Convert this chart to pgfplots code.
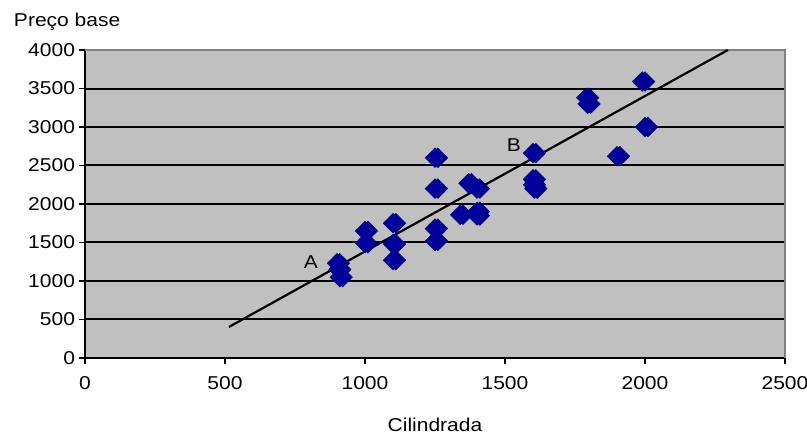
\documentclass[border=0pt]{standalone}
\usepackage{pgfplots}
\pgfplotsset{compat=1.18}
\usepackage{fontspec}
\setmainfont{Liberation Sans}

\definecolor{plotgray}{RGB}{192,192,192}
\definecolor{framegray}{RGB}{128,128,128}
\definecolor{markblue}{RGB}{0,0,155}
\definecolor{markshade}{RGB}{0,0,110}

\newcommand{\lbl}{\fontsize{18.6}{21}\selectfont}

\begin{document}
\begin{tikzpicture}
\path[use as bounding box] (-85pt,-78pt) rectangle (722pt,358pt);
\begin{axis}[
  at={(0pt,0pt)}, anchor=south west,
  scale only axis, width=700pt, height=308pt,
  xmin=0, xmax=2500, ymin=0, ymax=4000,
  xtick={0,500,...,2500}, ytick={0,500,...,4000},
  axis background/.style={fill=plotgray},
  axis x line*=bottom, axis y line*=left,
  axis line style={black, line width=2pt, -},
  ymajorgrids, major grid style={black, line width=2pt},
  tick style={black, line width=1.2pt},
  tick align=outside, major tick length=6pt,
  /pgf/number format/assume math mode=true,
  /pgf/number format/1000 sep={},
  ticklabel style={font=\lbl, xscale=1.13},
  xticklabel style={yshift=-9pt},
  xlabel={Cilindrada},
  xlabel style={font=\lbl, xscale=1.13, at={(axis description cs:0.5,0)}, anchor=base, yshift=-74pt},
  clip=false,
]
% plot frame: grey on top and right
\draw[framegray, line width=1.4pt] (rel axis cs:0,1) -- (rel axis cs:1,1) -- (rel axis cs:1,0);

% regression line
\addplot[black, line width=2.2pt] coordinates {(514,403) (2296,4000)};

% observations: shaded back layer, then front layer
\pgfplotstableread{
x y
900 1230
905 1150
910 1050
1000 1650
1000 1490
1100 1750
1100 1480
1100 1270
1250 2600
1250 2200
1250 1680
1250 1520
1370 2270
1400 2200
1340 1860
1400 1900
1400 1850
1600 2660
1600 2320
1600 2250
1605 2200
1790 3380
1795 3300
1990 3590
2000 3000
1900 2620
}\cars
\addplot[only marks, mark=square*, mark size=7pt,
  mark options={rotate=45, fill=markshade, draw=markshade, xshift=2pt, yshift=-2pt}] table {\cars};
\addplot[only marks, mark=square*, mark size=7pt,
  mark options={rotate=45, fill=markblue, draw=markblue}] table {\cars};

\node[font=\lbl, xscale=1.13] at (axis cs:807,1247) {A};
\node[font=\lbl, xscale=1.13] at (axis cs:1532,2766) {B};
\end{axis}
\node[font=\lbl, xscale=1.13, anchor=base west] at (-75pt,331pt) {Preço base};
\end{tikzpicture}
\end{document}
